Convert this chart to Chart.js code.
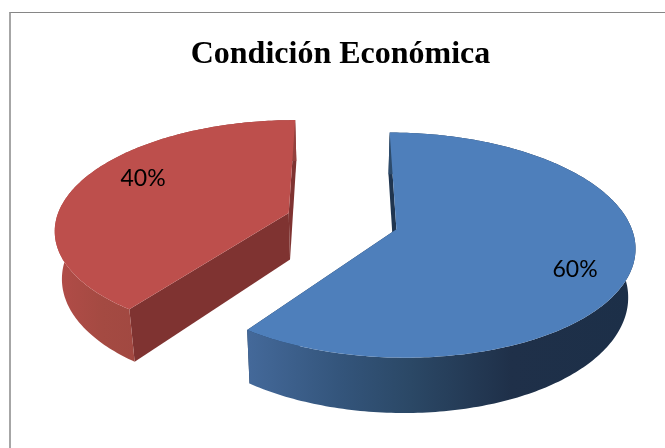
<!DOCTYPE html>
<html>
<head>
<meta charset="utf-8">
<script src="https://cdn.jsdelivr.net/npm/chart.js@4"></script>
<style>
html, body { margin: 0; padding: 0; background: #fff; overflow: hidden; }
#frame { position: absolute; left: 9px; top: 12px; width: 700px; height: 500px; border-left: 2px solid #a6a6a6; border-top: 1px solid #868686; }
#wrap { position: absolute; left: 0; top: 0; width: 665px; height: 448px; }
</style>
</head>
<body>
<div id="frame"></div>
<div id="wrap"><canvas id="pie-chart"></canvas></div>
<script>
const categories = ['Categoría 1', 'Categoría 2'];
const values = [60, 40];
const chartTitle = 'Condición Económica';

const topColors = ['#4e7fbb', '#bd4f4c'];
const cutColors = ['#1f3550', '#7f3331'];
const wallStops = [
    [[0, '#44699a'], [0.25, '#33547a'], [0.42, '#2b4866'], [0.68, '#1f3049'], [1, '#1c2f48']],
    [[0, '#b24c48'], [0.2, '#a44a42'], [1, '#94403d']]
];
// where the percent labels sit on each slice: fraction of radius, degrees past the slice middle
const labelRadius = [0.79, 0.755];
const labelTurn = [8, 9];

// fake 3d view of the pie, the disc gets tilted with a little perspective
const view = { cx: 342, cy: 221, rx: 233, ry: 108, k: 0.14, depth: 47, squeeze: 0.975, explode: 0.243 };

function project(u, v, low) {
    const d = 1 + view.k * v;
    let x = view.cx + view.rx * u / d;
    let y = view.cy - view.ry * v / d;
    if (low) {
        x = view.cx + (x - view.cx) * view.squeeze;
        y += view.depth / d;
    }
    return [x, y];
}

function fillPath(ctx, pts, style) {
    ctx.beginPath();
    pts.forEach((p, i) => i ? ctx.lineTo(p[0], p[1]) : ctx.moveTo(p[0], p[1]));
    ctx.closePath();
    ctx.fillStyle = style;
    ctx.fill();
}

const pie3d = {
    id: 'pie3d',
    beforeDatasetsDraw(chart) {
        const ctx = chart.ctx;
        chart.getDatasetMeta(0).data.forEach((arc, i) => {
            const { startAngle, endAngle } = arc.getProps(['startAngle', 'endAngle'], true);
            const mid = (startAngle + endAngle) / 2;
            const ox = Math.cos(mid) * view.explode;
            const oy = -Math.sin(mid) * view.explode;
            const steps = Math.ceil((endAngle - startAngle) * 60);
            const rim = [];
            for (let s = 0; s <= steps; s++) {
                const a = startAngle + (endAngle - startAngle) * s / steps;
                rim.push([ox + Math.cos(a), oy - Math.sin(a)]);
            }
            const up = rim.map(p => project(p[0], p[1], false));
            const down = rim.map(p => project(p[0], p[1], true));
            const apex = project(ox, oy, false);
            const apexLow = project(ox, oy, true);

            // the two cut faces
            fillPath(ctx, [apex, up[0], down[0], apexLow], cutColors[i]);
            fillPath(ctx, [apex, up[steps], down[steps], apexLow], cutColors[i]);

            // outer wall
            const xs = up.map(p => p[0]);
            const grad = ctx.createLinearGradient(Math.min(...xs), 0, Math.max(...xs), 0);
            wallStops[i].forEach(s => grad.addColorStop(s[0], s[1]));
            fillPath(ctx, up.concat(down.slice().reverse()), grad);

            // top of the slice
            fillPath(ctx, [apex].concat(up), topColors[i]);

            const la = mid + labelTurn[i] * Math.PI / 180;
            const lp = project(ox + Math.cos(la) * labelRadius[i], oy - Math.sin(la) * labelRadius[i], false);
            ctx.fillStyle = '#000';
            ctx.font = '23px Lato, "Open Sans", sans-serif';
            ctx.textAlign = 'center';
            ctx.textBaseline = 'middle';
            ctx.fillText(values[i] + '%', lp[0], lp[1]);
        });
        return false;
    }
};

new Chart(document.getElementById('pie-chart'), {
    type: 'pie',
    data: {
        labels: categories,
        datasets: [{
            data: values,
            backgroundColor: topColors,
            borderWidth: 0
        }]
    },
    options: {
        responsive: true,
        maintainAspectRatio: false,
        animation: false,
        rotation: 0,
        layout: { padding: { left: 16 } },
        plugins: {
            legend: { display: false },
            tooltip: { enabled: false },
            title: {
                display: true,
                text: chartTitle,
                color: '#000',
                font: { family: '"Liberation Serif", "Times New Roman", serif', size: 32, weight: 'bold' },
                padding: { top: 36, bottom: 10 }
            }
        }
    },
    plugins: [pie3d]
});
</script>
</body>
</html>
